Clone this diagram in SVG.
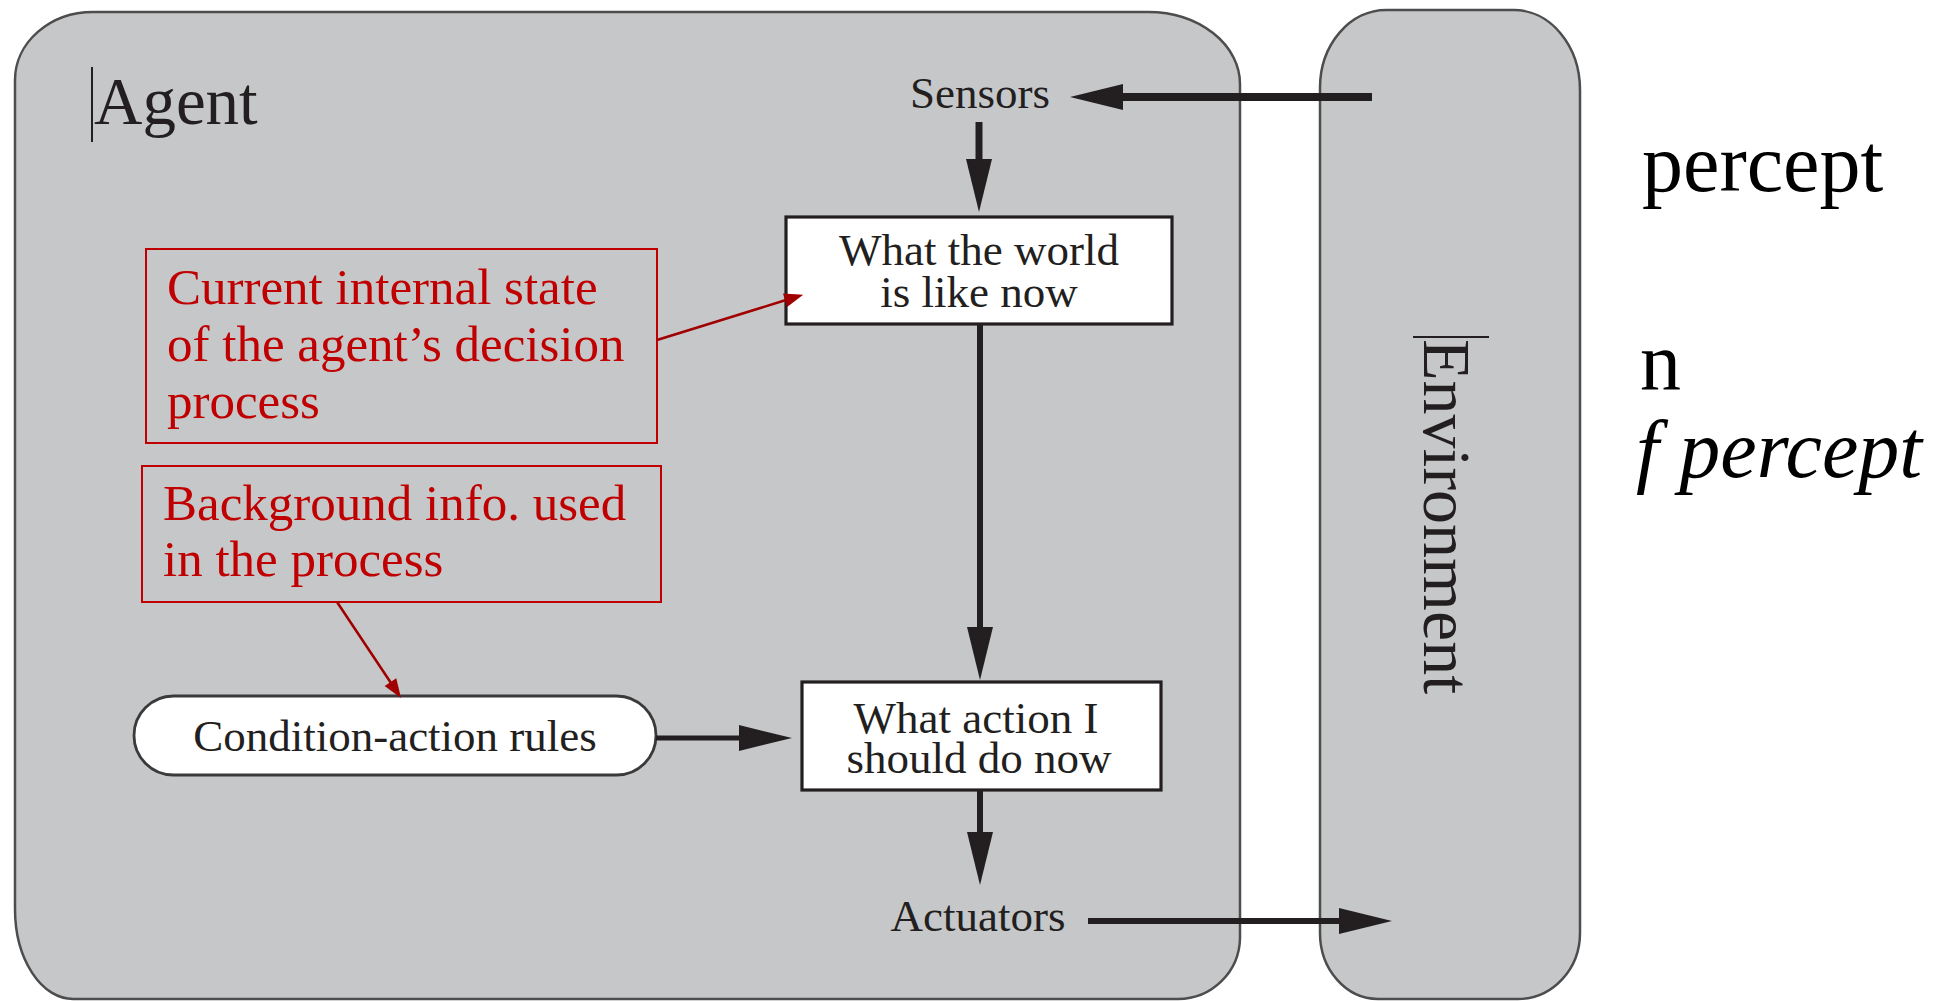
<svg xmlns="http://www.w3.org/2000/svg" width="1946" height="1001" viewBox="0 0 1946 1001">
<style>
.cont{fill:#c6c7c9;stroke:#4d4d4d;stroke-width:2.5}
.box{fill:#ffffff;stroke:#231f20;stroke-width:3.2}
.pill{fill:#ffffff;stroke:#3a3a3a;stroke-width:2.8}
.t{font-family:"Liberation Serif","Times New Roman",serif;fill:#231f20}
.lbl{font-size:45px;text-anchor:middle}
.big{font-size:67px}
.note{fill:none;stroke:#c00000;stroke-width:2}
.red{font-family:"Liberation Serif","Times New Roman",serif;font-size:51px;fill:#c00000}
.side{font-family:"Liberation Serif","Times New Roman",serif;font-size:82px;fill:#000}
.arr{stroke:#231f20;fill:none;marker-end:url(#ah)}
.rarr{stroke:#a00000;stroke-width:2.5;fill:none;marker-end:url(#rah)}
.cur{stroke:#231f20;stroke-width:2}
</style>
<defs>
<marker id="ah" markerUnits="userSpaceOnUse" markerWidth="54" markerHeight="26" refX="0" refY="13" orient="auto" overflow="visible">
<path d="M-1,0 L52,13 L-1,26 Z" fill="#231f20"/>
</marker>
<marker id="rah" markerUnits="userSpaceOnUse" markerWidth="18" markerHeight="14" refX="0" refY="7" orient="auto" overflow="visible">
<path d="M-1,0 L18,7 L-1,14 Z" fill="#a00000"/>
</marker>
</defs>
<rect width="1946" height="1001" fill="#ffffff"/>
<g id="agent">
<path class="cont" d="M15,80 A78,68 0 0 1 93,12 L1148,12 A92,72 0 0 1 1240,84 L1240,938 A62,62 0 0 1 1178,999 L73,999 A58,90 0 0 1 15,909 Z"/>
<line class="cur" x1="92" y1="67" x2="92" y2="142"/>
<text class="t big" x="94" y="124">Agent</text>
</g>
<g id="environment">
<path class="cont" d="M1320,88 A66,78 0 0 1 1386,10 L1514,10 A66,80 0 0 1 1580,90 L1580,933 A62,66 0 0 1 1518,999 L1378,999 A58,66 0 0 1 1320,933 Z"/>
<line class="cur" x1="1413" y1="337" x2="1489" y2="337"/>
<text class="t" font-size="68" transform="translate(1424,339) rotate(90)">Environment</text>
</g>
<g id="sensors">
<text class="t lbl" x="980" y="108">Sensors</text>
</g>
<g id="world">
<rect class="box" x="786" y="217" width="386" height="107"/>
<text class="t lbl" x="979" y="265">What the world</text>
<text class="t lbl" x="979" y="307">is like now</text>
</g>
<g id="rules">
<rect class="pill" x="134" y="696" width="522" height="79" rx="39.5" ry="39.5"/>
<text class="t lbl" x="395" y="751">Condition-action rules</text>
</g>
<g id="action">
<rect class="box" x="802" y="682" width="359" height="108"/>
<text class="t lbl" x="976" y="733">What action I</text>
<text class="t lbl" x="979" y="773">should do now</text>
</g>
<g id="actuators">
<text class="t lbl" x="978" y="931">Actuators</text>
</g>
<g id="note-state">
<rect class="note" x="146" y="249" width="511" height="194"/>
<text class="red" x="167" y="304">Current internal state</text>
<text class="red" x="167" y="361">of the agent’s decision</text>
<text class="red" x="167" y="418">process</text>
</g>
<g id="note-background">
<rect class="note" x="142" y="466" width="519" height="136"/>
<text class="red" x="163" y="520">Background info. used</text>
<text class="red" x="163" y="576">in the process</text>
</g>
<g id="side-text">
<text class="side" x="1642" y="191">percept</text>
<text class="side" x="1640" y="389">n</text>
<text class="side" x="1636" y="477" font-style="italic" font-size="80">f percept</text>
</g>
<g id="connectors">
<line class="arr" stroke-width="8" x1="1372" y1="97" x2="1122" y2="97"/>
<line class="arr" stroke-width="7" x1="979" y1="122" x2="979" y2="160"/>
<line class="arr" stroke-width="6" x1="980" y1="324" x2="980" y2="628"/>
<line class="arr" stroke-width="5" x1="656" y1="738" x2="740" y2="738"/>
<line class="arr" stroke-width="6" x1="980" y1="790" x2="980" y2="833"/>
<line class="arr" stroke-width="6" x1="1088" y1="921" x2="1340" y2="921"/>
<line class="rarr" x1="657" y1="340" x2="786" y2="300"/>
<line class="rarr" x1="337" y1="602" x2="391" y2="683"/>
</g>
</svg>
